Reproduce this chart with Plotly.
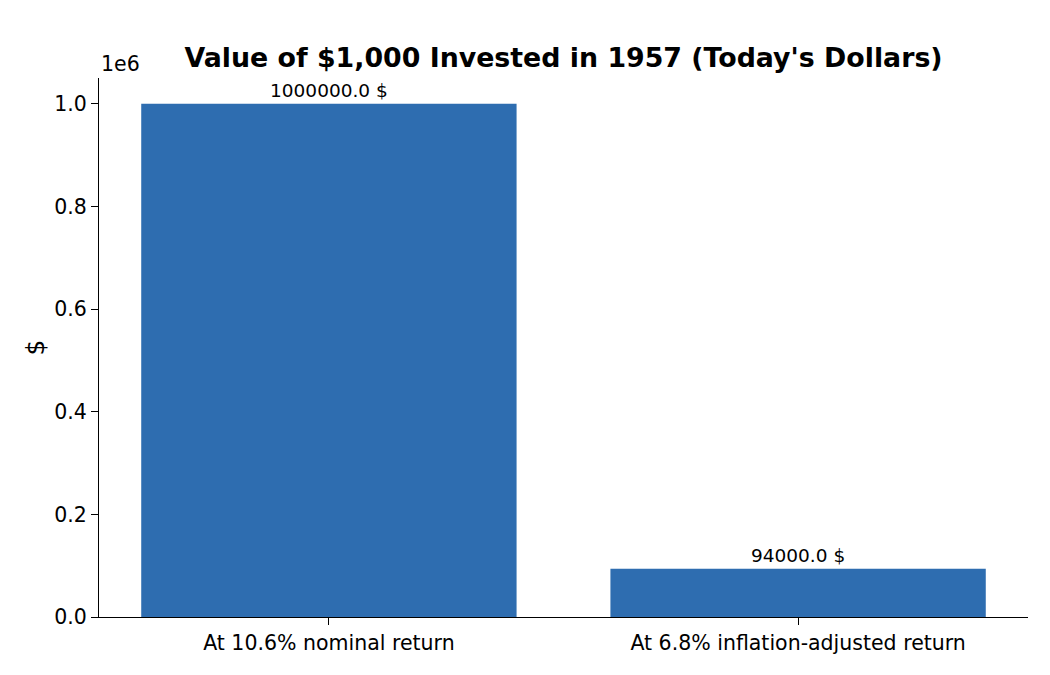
import plotly.graph_objects as go

categories = ["At 10.6% nominal return", "At 6.8% inflation-adjusted return"]
values = [1000000.0, 94000.0]
y_ticks = [0, 200000, 400000, 600000, 800000, 1000000]
y_tick_labels = ["0.0", "0.2", "0.4", "0.6", "0.8", "1.0"]

_FONT = dict(family="DejaVu Sans, sans-serif", size=20.5, color="black")
_BAR = "#2e6db0"

xpos = list(range(len(categories)))

fig = go.Figure(go.Bar(
    x=xpos, y=values, width=0.8,
    marker=dict(color=_BAR, line=dict(width=0)),
    text=[f"{v:.1f} $" for v in values], textposition="outside",
    textfont=dict(size=18.5, color="black"),
    cliponaxis=False,
))

fig.update_layout(
    width=1050, height=675,
    margin=dict(l=91, r=30, t=70, b=66),
    title=dict(
        text="<b>Value of $1,000 Invested in 1957 (Today's Dollars)</b>",
        xref="paper", x=0.5, xanchor="center", y=0.927, yanchor="middle",
        font=dict(size=26.8, family="DejaVu Sans, sans-serif", color="black"),
    ),
    xaxis=dict(
        range=[-0.49, 1.49], tickvals=xpos, ticktext=categories,
        showline=True, linecolor="black", linewidth=1.3,
        ticks="outside", ticklen=7, tickcolor="black",
        showgrid=False, zeroline=False, fixedrange=True,
    ),
    yaxis=dict(
        range=[0, 1.05e6], tickvals=y_ticks, ticktext=y_tick_labels,
        showline=True, linecolor="black", linewidth=1.3,
        ticks="outside", ticklen=7, tickcolor="black",
        showgrid=False, zeroline=False,
        title=dict(text="$", standoff=2),
    ),
    annotations=[dict(
        text="1e6", xref="paper", yref="paper", x=0, y=1,
        xanchor="left", yanchor="bottom", showarrow=False,
        font=dict(size=20.5),
    )],
    showlegend=False,
    font=_FONT,
    plot_bgcolor="white", paper_bgcolor="white",
)

fig.write_html("out.html")
